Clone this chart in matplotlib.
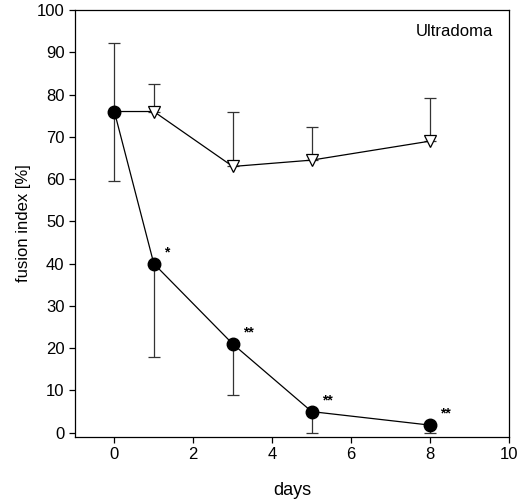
import numpy as np
import matplotlib.pyplot as plt

plt.rcParams['font.family'] = ['Liberation Sans', 'DejaVu Sans']

days = [0, 1, 3, 5, 8]
treated = [76, 40, 21, 5, 1.8]
treated_err = [16.5, 22, 12, 5, 1.8]
control = [76, 76, 63, 64.5, 69]
control_err = [16.3, 6.5, 13, 7.8, 10.2]
stars = ['', '*', '**', '**', '**']

fig = plt.figure(figsize=(5.2, 5.04), dpi=100)
ax = fig.add_axes([0.144, 0.133, 0.835, 0.847])

# control: open triangles, upper error only
ax.errorbar(days, control, yerr=[np.zeros(len(control)), control_err], fmt='none',
            ecolor='#333333', elinewidth=0.9, capsize=4, capthick=0.9, zorder=1)
ax.plot(days, control, color='black', lw=0.9, zorder=2)
ax.plot(days[1:], control[1:], ls='none', marker='v', ms=9,
        mfc='white', mec='black', mew=0.9, zorder=2)

# treated: filled circles, lower error only
ax.errorbar(days, treated, yerr=[treated_err, np.zeros(len(treated))], fmt='none',
            ecolor='#333333', elinewidth=0.9, capsize=4, capthick=0.9, zorder=1)
ax.plot(days, treated, color='black', lw=0.9, marker='o', ms=9,
        mfc='black', mec='black', zorder=3)

for d, v, s in zip(days, treated, stars):
    if s:
        ax.text(d + 0.25, v + 1.0, s, fontsize=10, fontweight='bold', ha='left', va='bottom')

ax.text(9.6, 95, 'Ultradoma', fontsize=12, ha='right', va='center')

ax.set_xlim(-1, 10)
ax.set_ylim(-1, 100)
ax.set_xticks([0, 2, 4, 6, 8, 10])
ax.set_yticks(range(0, 101, 10))
ax.tick_params(direction='out', length=4, width=0.9, labelsize=12)
for sp in ax.spines.values():
    sp.set_linewidth(0.9)
ax.set_xlabel('days', fontsize=13, labelpad=14)
ax.set_ylabel('fusion index [%]', fontsize=12, labelpad=4)

fig.savefig('out.png', dpi=100)
